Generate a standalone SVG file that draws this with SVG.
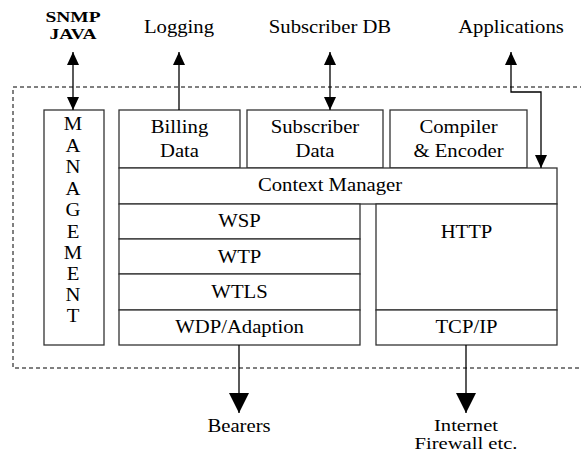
<svg xmlns="http://www.w3.org/2000/svg" width="581" height="452" viewBox="0 0 581 452" font-family="'Liberation Serif', 'DejaVu Serif', 'Times New Roman', serif">
<style>
text{font-family:'Liberation Serif','DejaVu Serif','Times New Roman',serif;font-size:18px;text-anchor:middle;fill:#000}
.b{font-weight:bold;font-size:15px}
.s{font-size:16.5px}
.box{fill:#fff;stroke:#333;stroke-width:1.3}
.c{fill:none;stroke:#000;stroke-width:1.3}
.d{fill:none;stroke:#000;stroke-width:1;stroke-dasharray:4 3}
</style>
<defs>
<marker id="a" viewBox="0 0 13 12" refX="13" refY="6" markerWidth="13" markerHeight="12" markerUnits="userSpaceOnUse" orient="auto-start-reverse"><path d="M0,0 L13,6 L0,12 z" fill="#000"/></marker>
<marker id="A" viewBox="0 0 20 20" refX="20" refY="10" markerWidth="20" markerHeight="20" markerUnits="userSpaceOnUse" orient="auto-start-reverse"><path d="M0,0 L20,10 L0,20 z" fill="#000"/></marker>
</defs>
<rect class="d" x="13" y="87" width="580" height="281"/>
<g id="labels">
<text class="b" transform="translate(73,22) scale(1.3,1)">SNMP</text>
<text class="b" transform="translate(73,38.5) scale(1.3,1)">JAVA</text>
<text transform="translate(179,33) scale(1.15,1)">Logging</text>
<text transform="translate(330,33) scale(1.15,1)">Subscriber DB</text>
<text transform="translate(511,33) scale(1.15,1)">Applications</text>
<text transform="translate(239,432) scale(1.15,1)">Bearers</text>
<text class="s" transform="translate(466,431) scale(1.25,1)">Internet</text>
<text class="s" transform="translate(466,449) scale(1.25,1)">Firewall etc.</text>
</g>
<g id="management">
<rect class="box" x="44" y="110" width="60" height="235"/>
<text transform="translate(73,130) scale(1.15,1)">M</text>
<text transform="translate(73,152) scale(1.15,1)">A</text>
<text transform="translate(73,173) scale(1.15,1)">N</text>
<text transform="translate(73,195) scale(1.15,1)">A</text>
<text transform="translate(73,216) scale(1.15,1)">G</text>
<text transform="translate(73,238) scale(1.15,1)">E</text>
<text transform="translate(73,259) scale(1.15,1)">M</text>
<text transform="translate(73,280) scale(1.15,1)">E</text>
<text transform="translate(73,301) scale(1.15,1)">N</text>
<text transform="translate(73,322) scale(1.15,1)">T</text>
</g>
<g id="billing">
<rect class="box" x="119" y="110" width="121" height="58"/>
<text transform="translate(179.5,133) scale(1.15,1)">Billing</text>
<text transform="translate(179.5,157) scale(1.15,1)">Data</text>
</g>
<g id="subscriber">
<rect class="box" x="247" y="110" width="136" height="58"/>
<text transform="translate(315,133) scale(1.15,1)">Subscriber</text>
<text transform="translate(315,157) scale(1.15,1)">Data</text>
</g>
<g id="compiler">
<rect class="box" x="390" y="110" width="137" height="58"/>
<text transform="translate(458.5,133) scale(1.15,1)">Compiler</text>
<text transform="translate(458.5,157) scale(1.15,1)">&amp; Encoder</text>
</g>
<g id="context">
<rect class="box" x="119" y="168" width="438" height="36"/>
<text transform="translate(330,191) scale(1.15,1)">Context Manager</text>
</g>
<g id="wsp">
<rect class="box" x="119" y="204" width="241" height="35"/>
<text transform="translate(239.5,227) scale(1.15,1)">WSP</text>
</g>
<g id="wtp">
<rect class="box" x="119" y="239" width="241" height="35"/>
<text transform="translate(239.5,263) scale(1.15,1)">WTP</text>
</g>
<g id="wtls">
<rect class="box" x="119" y="274" width="241" height="36"/>
<text transform="translate(239.5,298) scale(1.15,1)">WTLS</text>
</g>
<g id="wdp">
<rect class="box" x="119" y="310" width="241" height="35"/>
<text transform="translate(239.5,333) scale(1.15,1)">WDP/Adaption</text>
</g>
<g id="http">
<rect class="box" x="376" y="204" width="181" height="106"/>
<text transform="translate(466.5,238) scale(1.15,1)">HTTP</text>
</g>
<g id="tcpip">
<rect class="box" x="376" y="310" width="181" height="35"/>
<text transform="translate(466.5,333) scale(1.15,1)">TCP/IP</text>
</g>
<g id="connectors">
<line class="c" x1="73" y1="52" x2="73" y2="110" marker-start="url(#a)" marker-end="url(#a)"/>
<line class="c" x1="179" y1="110" x2="179" y2="52" marker-end="url(#a)"/>
<line class="c" x1="330" y1="52" x2="330" y2="110" marker-start="url(#a)" marker-end="url(#a)"/>
<path class="c" d="M511,52 V92 H541 V168" marker-start="url(#a)" marker-end="url(#a)"/>
<line class="c" x1="239" y1="345" x2="239" y2="413" marker-end="url(#A)"/>
<line class="c" x1="466" y1="345" x2="466" y2="413" marker-end="url(#A)"/>
</g>
</svg>
